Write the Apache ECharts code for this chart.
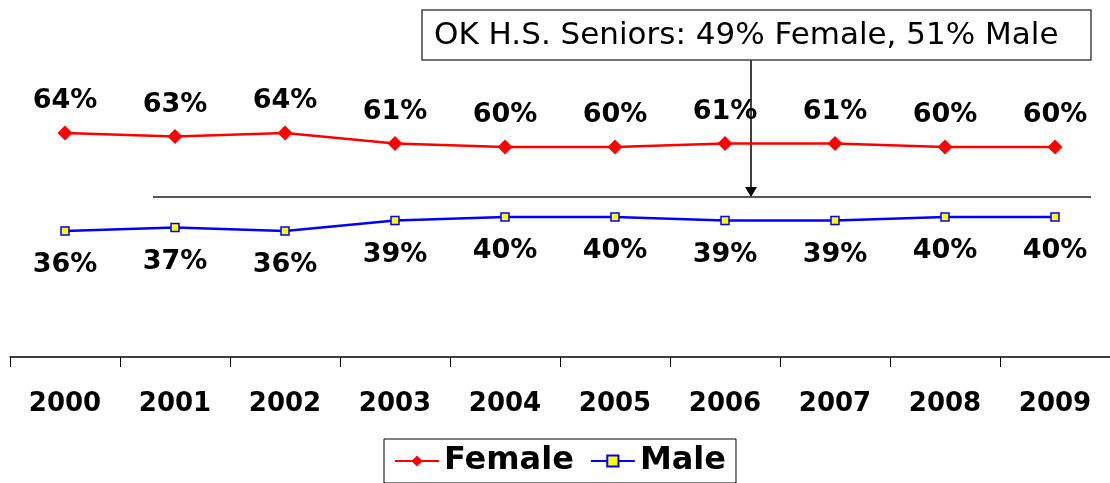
<!DOCTYPE html>
<html><head><meta charset="utf-8">
<script src="https://cdn.jsdelivr.net/npm/echarts@6/dist/echarts.min.js"></script>
<style>html,body{margin:0;padding:0;background:#fff}#c{width:1110px;height:483px}</style>
</head><body><div id="c"></div>
<script>
const years = ['2000','2001','2002','2003','2004','2005','2006','2007','2008','2009'];
const female = [64,63,64,61,60,60,61,61,60,60];
const male = [36,37,36,39,40,40,39,39,40,40];
const noteText = 'OK H.S. Seniors: 49% Female, 51% Male';

const chart = echarts.init(document.getElementById('c'));
const FF = '"DejaVu Sans", Verdana, sans-serif';
const lblFont = {fontFamily:FF, fontWeight:'bold', fontSize:27, color:'#000'};
chart.setOption({
  animation:false,
  grid:{left:10, top:7, width:1106, height:350},
  xAxis:{type:'category', data:years, boundaryGap:true,
    axisLine:{lineStyle:{color:'#000',width:1.5}},
    axisTick:{show:true, length:10, inside:false, lineStyle:{color:'#000'}},
    axisLabel:{margin:34, fontFamily:FF, fontWeight:'bold', fontSize:26, color:'#000'}},
  yAxis:{type:'value', min:0, max:100, show:false, splitLine:{show:false}},
  legend:{left:384, top:439, padding:[6,10,6,10], itemGap:16, itemWidth:44, itemHeight:14,
    borderColor:'#000', borderWidth:1,
    textStyle:{fontFamily:FF, fontWeight:'bold', fontSize:32, color:'#000'},
    data:['Female','Male']},
  series:[
    {name:'Female', type:'line', data:female, symbol:'diamond', symbolSize:15,
     lineStyle:{color:'#ff0000',width:2.5}, itemStyle:{color:'#ff0000'},
     label:{show:true, position:'top', distance:11, formatter:'{c}%', ...lblFont}},
    {name:'Male', type:'line', data:male, symbol:'rect', symbolSize:8,
     lineStyle:{color:'#0000ff',width:2.5}, itemStyle:{color:'#ffff00', borderColor:'#0000ff', borderWidth:1.5},
     label:{show:true, position:'bottom', distance:16, formatter:'{c}%', ...lblFont}}
  ],
  graphic:[
    {type:'line', shape:{x1:153,y1:197,x2:1091,y2:197}, style:{stroke:'#555',lineWidth:2}},
    {type:'line', shape:{x1:751,y1:57,x2:751,y2:188}, style:{stroke:'#000',lineWidth:1.5}},
    {type:'polygon', shape:{points:[[745,187],[757,187],[751,197]]}, style:{fill:'#000'}},
    {type:'rect', shape:{x:422,y:10,width:669,height:50}, style:{fill:'#fff',stroke:'#444',lineWidth:1.5}},
    {type:'text', x:434, y:36, style:{text:noteText, font:'31px "DejaVu Sans", Verdana, sans-serif', fill:'#000', textVerticalAlign:'middle'}}
  ]
});
</script></body></html>
